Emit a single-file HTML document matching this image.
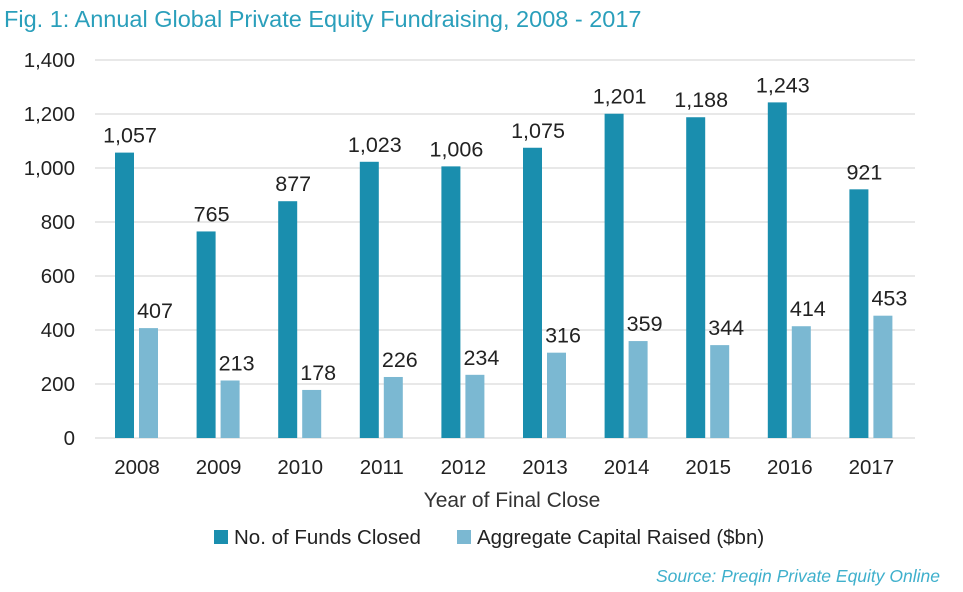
<!DOCTYPE html>
<html><head><meta charset="utf-8"><style>
body{margin:0;background:#fff;width:963px;height:592px;overflow:hidden;font-family:"Liberation Sans",sans-serif}
svg{display:block}
</style></head><body>
<svg id="chart" width="963" height="592">
<text x="4" y="27" font-size="23.5" fill="#2a9fbb">Fig. 1: Annual Global Private Equity Fundraising, 2008 - 2017</text>
<g id="grid"></g><g id="bars"></g><g id="xlabels"></g>
<text x="512" y="507" font-size="21" fill="#333" text-anchor="middle">Year of Final Close</text>
<rect x="214" y="530" width="14" height="14" fill="#1a8eae"/>
<text x="234" y="544" font-size="20.5" fill="#222">No. of Funds Closed</text>
<rect x="457" y="530" width="14" height="14" fill="#7bb8d2"/>
<text x="477" y="544" font-size="20.5" fill="#222">Aggregate Capital Raised ($bn)</text>
<text x="940" y="582" font-size="17.5" fill="#3fb0cc" font-style="italic" text-anchor="end">Source: Preqin Private Equity Online</text>
</svg>
<script>
const categories=["2008","2009","2010","2011","2012","2013","2014","2015","2016","2017"];
const funds=[1057,765,877,1023,1006,1075,1201,1188,1243,921];
const capital=[407,213,178,226,234,316,359,344,414,453];
const ticks=[0,200,400,600,800,1000,1200,1400];
const NS="http://www.w3.org/2000/svg";
const y0=438,yTop=60,ymax=1400;
const y=v=>y0-(v/ymax)*(y0-yTop);
const x=i=>137+i*81.6;
function mk(tag,attrs,parent,txt){const e=document.createElementNS(NS,tag);for(const k in attrs)e.setAttribute(k,attrs[k]);if(txt!==undefined)e.textContent=txt;document.getElementById(parent).appendChild(e);return e;}
const fmt=v=>v.toLocaleString("en-US");
ticks.forEach(t=>{
 const l=mk("line",{x1:95,x2:915,y1:y(t),y2:y(t),stroke:"#d0d0d0","stroke-width":1},"grid");
 
 
 const tx=mk("text",{x:75,y:y(t)+7,"font-size":20.5,fill:"#222","text-anchor":"end"},"grid",fmt(t));
 
 
});
categories.forEach((c,i)=>{
 const cx=x(i);
 const b1=mk("rect",{x:cx-22,y:y(funds[i]),width:19,height:y0-y(funds[i]),fill:"#1a8eae"},"bars");
 
 
 const b2=mk("rect",{x:cx+2,y:y(capital[i]),width:19,height:y0-y(capital[i]),fill:"#7bb8d2"},"bars");
 
 
 const t1=mk("text",{x:cx-7,y:y(funds[i])-10,"font-size":21.5,fill:"#222","text-anchor":"middle"},"bars",fmt(funds[i]));
 
 
 const t2=mk("text",{x:cx+18,y:y(capital[i])-10,"font-size":21.5,fill:"#222","text-anchor":"middle"},"bars",fmt(capital[i]));
 
 
 const xl=mk("text",{x:cx,y:474,"font-size":20.5,fill:"#222","text-anchor":"middle"},"xlabels",c);
 
 
});
</script>
</body></html>
